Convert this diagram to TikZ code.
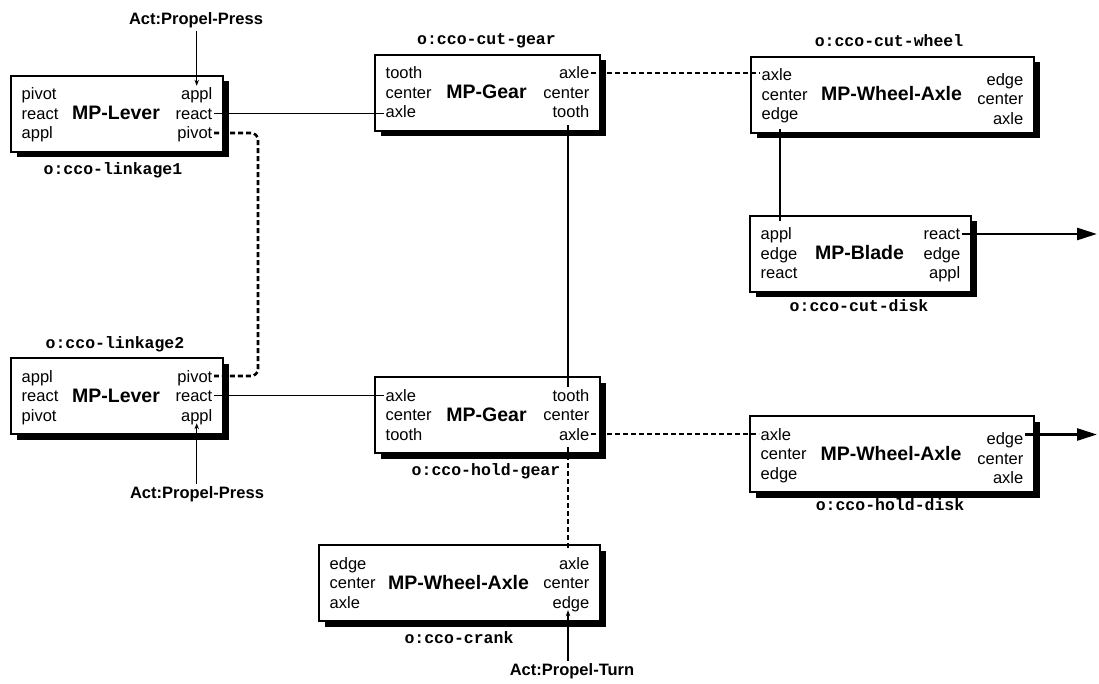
\documentclass[tikz,border=0pt]{standalone}
\usepackage{fontspec}
\setmainfont{Liberation Sans}
\setmonofont{Liberation Mono}
\usetikzlibrary{arrows.meta,shadows,calc}

\tikzset{
  mpframe/.style={draw, line width=2pt, fill=white, inner sep=0pt, anchor=north west,
    drop shadow={shadow xshift=5.5pt, shadow yshift=-5.5pt, fill=black, opacity=1}},
  port/.style={inner sep=1.5pt, text height=12.5pt, text depth=0.5pt,
    font=\fontsize{16.5}{19.5}\selectfont},
  mptitle/.style={inner sep=0pt, anchor=base, font=\fontsize{19.5}{22}\selectfont\bfseries},
  objname/.style={inner sep=0pt, anchor=base, font=\fontsize{16.5}{19}\selectfont\ttfamily\bfseries},
  actname/.style={inner sep=2pt, anchor=base, font=\fontsize{16.5}{19}\selectfont\bfseries},
  solidlink/.style={line width=1.4pt},
  dashlink/.style={line width=2.6pt, dash pattern=on 5pt off 3pt},
  actlink/.style={line width=1.3pt, -{Stealth[length=6pt,width=4.5pt]}},
  outlink/.style={line width=2.6pt, -{Triangle[length=20pt,width=12pt]}},
}

% a mechanism part: name, left, top, right, title
\newcommand{\mpbox}[5]{%
  \node[mpframe, minimum width={(#4-#2)*1pt}, minimum height=76pt] (#1) at (#2,#3) {};
  \node[mptitle] (#1-title) at ({(#2+#4)/2},{#3+45}) {#5};
}
% three ports on the left side of a part
\newcommand{\leftports}[4]{%
  \path (#1.north west) ++(10,25) node[port,anchor=base west] (#1-l1) {#2}
        ++(0,19.5) node[port,anchor=base west] (#1-l2) {#3}
        ++(0,19.5) node[port,anchor=base west] (#1-l3) {#4};
}
% three ports on the right side of a part, with a vertical offset
\newcommand{\rightports}[5]{%
  \path (#1.north east) ++(-10,{25+#2}) node[port,anchor=base east] (#1-r1) {#3}
        ++(0,19.5) node[port,anchor=base east] (#1-r2) {#4}
        ++(0,19.5) node[port,anchor=base east] (#1-r3) {#5};
}

\begin{document}
\begin{tikzpicture}[x=1pt,y=-1pt]
\useasboundingbox (0,0) rectangle (1099,684);

% parts
\mpbox{lev1}{10}{75}{222}{MP-Lever}
\leftports{lev1}{pivot}{react}{appl}
\rightports{lev1}{0}{appl}{react}{pivot}
\node[objname] (lev1-name) at (113,175) {o:cco-linkage1};

\mpbox{gear1}{374}{54}{599}{MP-Gear}
\leftports{gear1}{tooth}{center}{axle}
\rightports{gear1}{0}{axle}{center}{tooth}
\node[objname] (gear1-name) at (486.5,45) {o:cco-cut-gear};

\mpbox{wheel1}{750}{56}{1033}{MP-Wheel-Axle}
\leftports{wheel1}{axle}{center}{edge}
\rightports{wheel1}{4.5}{edge}{center}{axle}
\node[objname] (wheel1-name) at (889,47) {o:cco-cut-wheel};

\mpbox{blade}{749}{215}{970}{MP-Blade}
\leftports{blade}{appl}{edge}{react}
\rightports{blade}{0}{react}{edge}{appl}
\node[objname] (blade-name) at (859,312) {o:cco-cut-disk};

\mpbox{lev2}{10}{357}{222}{MP-Lever}
\leftports{lev2}{appl}{react}{pivot}
\rightports{lev2}{0}{pivot}{react}{appl}
\node[objname] (lev2-name) at (115,348) {o:cco-linkage2};

\mpbox{gear2}{374}{376}{599}{MP-Gear}
\leftports{gear2}{axle}{center}{tooth}
\rightports{gear2}{0}{tooth}{center}{axle}
\node[objname] (gear2-name) at (486,475) {o:cco-hold-gear};

\mpbox{wheel2}{749}{415}{1033}{MP-Wheel-Axle}
\leftports{wheel2}{axle}{center}{edge}
\rightports{wheel2}{4.5}{edge}{center}{axle}
\node[objname] (wheel2-name) at (890,510) {o:cco-hold-disk};

\mpbox{crank}{318}{544}{599}{MP-Wheel-Axle}
\leftports{crank}{edge}{center}{axle}
\rightports{crank}{0}{axle}{center}{edge}
\node[objname] (crank-name) at (459,643) {o:cco-crank};

% actions
\node[actname] (act-press1) at (196,25) {Act:Propel-Press};
\node[actname] (act-press2) at (197,498) {Act:Propel-Press};
\node[actname] (act-turn) at (572,675) {Act:Propel-Turn};

% guide coordinates
\coordinate (outx) at (1097,0);
\coordinate (spine) at (568,0);
\coordinate (loopx) at (258,0);

% connections
\draw[actlink] (act-press1.south -| lev1-r1.north) -- (lev1-r1.north);
\draw[solidlink] (lev1-r2.east) -- (lev1-r2.east -| gear1-l3.west);
\draw[dashlink, rounded corners=7pt] (lev1-r3.east) -| (lev2-r1.east -| loopx) -- (lev2-r1.east);
\draw[solidlink] (lev2-r2.east) -- (lev2-r2.east -| gear2-l1.west);
\draw[actlink] (act-press2.north -| lev2-r3.south) -- (lev2-r3.south);
\draw[dashlink] (gear1-r1.east) -- (gear1-r1.east -| wheel1-l1.west);
\draw[solidlink, shorten <=5pt] (gear1-r3.south -| spine) -- (gear2-r1.north -| spine);
\draw[dashlink] (gear2-r3.east) -- (gear2-r3.east -| wheel2-l1.west);
\draw[dashlink, shorten <=5pt, shorten >=4pt] (gear2-r3.south -| spine) -- (crank-r1.north -| spine);
\draw[actlink] (act-turn.north -| spine) -- (crank-r3.south -| spine);
\draw[solidlink, shorten <=7pt, shorten >=5pt] (wheel1-l3.south) -- (wheel1-l3.south |- blade-l1.north);
\draw[outlink] (blade-r1.east) -- (blade-r1.east -| outx);
\draw[outlink] ([yshift=4pt]wheel2-r1.east) -- ([yshift=4pt]wheel2-r1.east -| outx);
\end{tikzpicture}
\end{document}
